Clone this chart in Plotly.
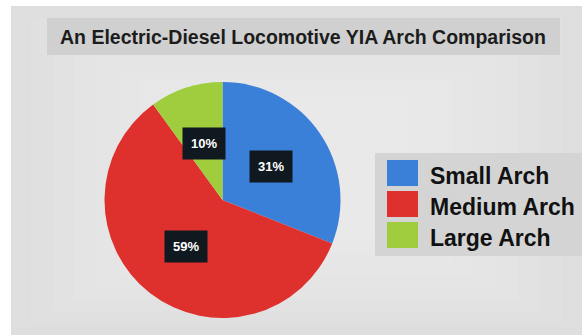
import math
import plotly.graph_objects as go

categories = ["Small Arch", "Medium Arch", "Large Arch"]
values = [31, 59, 10]
colors = ["#3a7fd8", "#de302c", "#9fcd3e"]
title_text = "An Electric-Diesel Locomotive YIA Arch Comparison"

W, H = 582, 335
def px(x):
    return x / W
def py(y):
    return 1 - y / H

cx, cy, r = 222.5, 200, 118
FONT = "Arial, Liberation Sans, Helvetica"

fig = go.Figure(go.Pie(
    labels=categories, values=values, sort=False, direction="clockwise", rotation=0,
    marker=dict(colors=colors, line=dict(width=0)),
    textinfo="none", hoverinfo="label+percent", showlegend=False,
    domain=dict(x=[px(cx - r), px(cx + r)], y=[py(cy + r), py(cy - r)]),
))

shapes = []
annotations = []
# background slide with a soft lightening toward the centre
shapes.append(dict(type="rect", xref="paper", yref="paper", x0=px(11), x1=1, y0=0, y1=py(6),
                   fillcolor="#dedede", line=dict(width=0), layer="below"))
for k in range(8):
    inset_x = 20 + k * 22
    inset_y = 12 + k * 12
    shapes.append(dict(type="rect", xref="paper", yref="paper",
                       x0=px(11 + inset_x), x1=px(W - inset_x), y0=py(H - inset_y), y1=py(6 + inset_y),
                       fillcolor="white", opacity=0.07, line=dict(width=0), layer="below"))
# title box
shapes.append(dict(type="rect", xref="paper", yref="paper", x0=px(47), x1=px(560), y0=py(55), y1=py(18),
                   fillcolor="#d0d0d0", line=dict(width=0), layer="below"))
annotations.append(dict(text="<b>" + title_text + "</b>", x=px(303), y=py(37), xref="paper", yref="paper",
                        xanchor="center", yanchor="middle", showarrow=False,
                        font=dict(family=FONT, size=19.5, color="#1c1c1c")))

# percentage labels with dark boxes
total = sum(values)
cum = 0
for v in values:
    mid = (cum + v / 2) / total * 2 * math.pi
    cum += v
    lx = cx + 0.5 * r * math.sin(mid)
    ly = cy - 0.5 * r * math.cos(mid)
    annotations.append(dict(text="<b>%d%%</b>" % round(v / total * 100), x=px(lx), y=py(ly),
                            xref="paper", yref="paper", xanchor="center", yanchor="middle", showarrow=False,
                            font=dict(family=FONT, size=13, color="white"),
                            bgcolor="#111920", borderpad=8))

# custom legend
shapes.append(dict(type="rect", xref="paper", yref="paper", x0=px(375), x1=1, y0=py(256), y1=py(153),
                   fillcolor="#d4d4d4", line=dict(width=0)))
for i, (name, col) in enumerate(zip(categories, colors)):
    top = 160 + i * 31
    shapes.append(dict(type="rect", xref="paper", yref="paper", x0=px(387), x1=px(418),
                       y0=py(top + 26), y1=py(top), fillcolor=col, line=dict(width=0)))
    annotations.append(dict(text="<b>" + name + "</b>", x=px(428), y=py(top + 16), xref="paper", yref="paper",
                            xanchor="left", yanchor="middle", showarrow=False,
                            font=dict(family=FONT, size=23, color="#111111")))

fig.update_layout(width=W, height=H, margin=dict(l=0, r=0, t=0, b=0),
                  paper_bgcolor="white", plot_bgcolor="white",
                  shapes=shapes, annotations=annotations, showlegend=False)
fig.write_html("out.html")
